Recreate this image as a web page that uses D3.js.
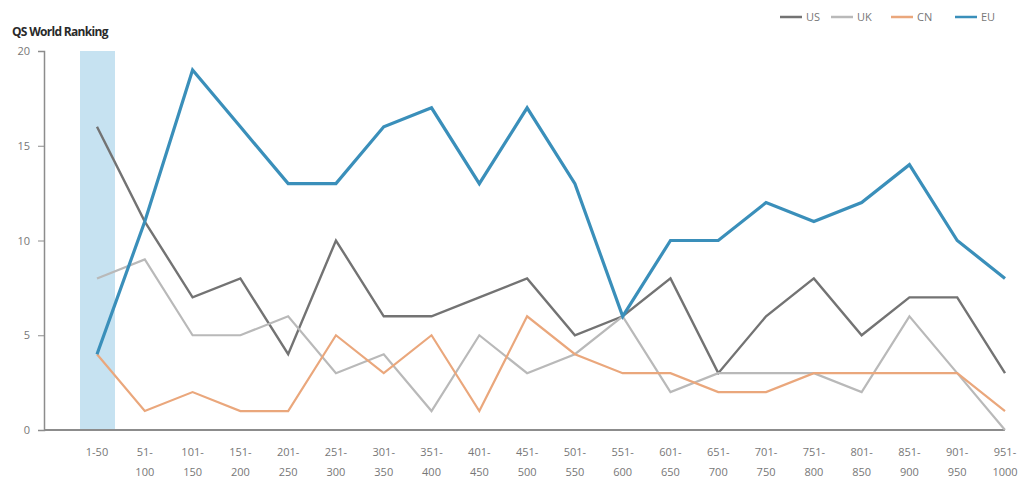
<!DOCTYPE html>
<html><head><meta charset="utf-8">
<script src="https://cdnjs.cloudflare.com/ajax/libs/d3/7.8.5/d3.min.js"></script>
<style>body{margin:0;background:#fff;} svg{display:block;} text{font-family:"Open Sans",sans-serif;}</style>
</head><body><svg id="c" width="1032" height="480"></svg>
<script>
const categories = ["1-50","51-100","101-150","151-200","201-250","251-300","301-350","351-400","401-450","451-500","501-550","551-600","601-650","651-700","701-750","751-800","801-850","851-900","901-950","951-1000"];
const US = [16,11,7,8,4,10,6,6,7,8,5,6,8,3,6,8,5,7,7,3];
const UK = [8,9,5,5,6,3,4,1,5,3,4,6,2,3,3,3,2,6,3,0];
const CN = [4,1,2,1,1,5,3,5,1,6,4,3,3,2,2,3,3,3,3,1];
const EU = [4,11,19,16,13,13,16,17,13,17,13,6,10,10,12,11,12,14,10,8];
const yTicks = [0,5,10,15,20];
const highlighted = ["1-50"];
const series = [
  {name:"US", values:US, color:"#737373", width:2.4},
  {name:"UK", values:UK, color:"#b9b9b9", width:2.2},
  {name:"CN", values:CN, color:"#eaa77c", width:2.2},
  {name:"EU", values:EU, color:"#3a8fba", width:3.2}
];
(function(){
const svg = d3.select("#c");
const mLeft = 44, mRight = 1005, mTop = 51, mBottom = 430;
const x = d3.scalePoint().domain(categories).range([97, 1005]);
const y = d3.scaleLinear().domain([0,20]).range([mBottom, mTop]);

svg.selectAll("rect.hl").data(highlighted).join("rect")
  .attr("x", d => x(d) - 17).attr("width", 35)
  .attr("y", y(20)).attr("height", y(0) - y(20))
  .attr("fill", "#c6e2f1");

const ya = svg.append("g").attr("transform", `translate(${mLeft},0)`)
  .call(d3.axisLeft(y).tickValues(yTicks).tickSize(6).tickPadding(8));
ya.select(".domain").attr("stroke", "#8c8c8c").attr("stroke-width", 1.5);
ya.selectAll(".tick line").attr("stroke", "#8c8c8c");
ya.selectAll(".tick text").attr("fill", "#777").style("font-size", "11px").style("font-family","Open Sans");

svg.append("line").attr("x1", mLeft).attr("x2", mRight).attr("y1", y(0)).attr("y2", y(0))
  .attr("stroke", "#8c8c8c").attr("stroke-width", 2);

const xl = svg.append("g");
categories.forEach(c => {
  const parts = c.split("-");
  const t = xl.append("text").attr("x", x(c)).attr("y", 456).attr("text-anchor", "middle")
    .attr("fill", "#777").style("font-size", "11px");
  if (c === "1-50") { t.text(c); }
  else {
    t.append("tspan").attr("x", x(c)).attr("dy", 0).text(parts[0] + "-");
    t.append("tspan").attr("x", x(c)).attr("dy", 20).text(parts[1]);
  }
});

const line = d3.line().x((d,i) => x(categories[i])).y(d => y(d));
series.forEach(s => {
  svg.append("path").datum(s.values).attr("d", line)
    .attr("fill", "none").attr("stroke", s.color).attr("stroke-width", s.width)
    .attr("stroke-linejoin", "miter");
});

svg.append("text").attr("x", 12).attr("y", 36).text("QS World Ranking")
  .attr("fill", "#2a2a2a").style("font-size", "12px").style("font-weight", "700").style("letter-spacing","-0.7px");

const legX = [780, 831, 891, 955];
const lg = svg.append("g");
series.forEach((s, i) => {
  lg.append("line").attr("x1", legX[i]).attr("x2", legX[i] + 22).attr("y1", 17).attr("y2", 17)
    .attr("stroke", s.color).attr("stroke-width", 2.5);
  lg.append("text").attr("x", legX[i] + 26).attr("y", 21).text(s.name)
    .attr("fill", "#777").style("font-size", "11px");
});
})();
</script></body></html>
